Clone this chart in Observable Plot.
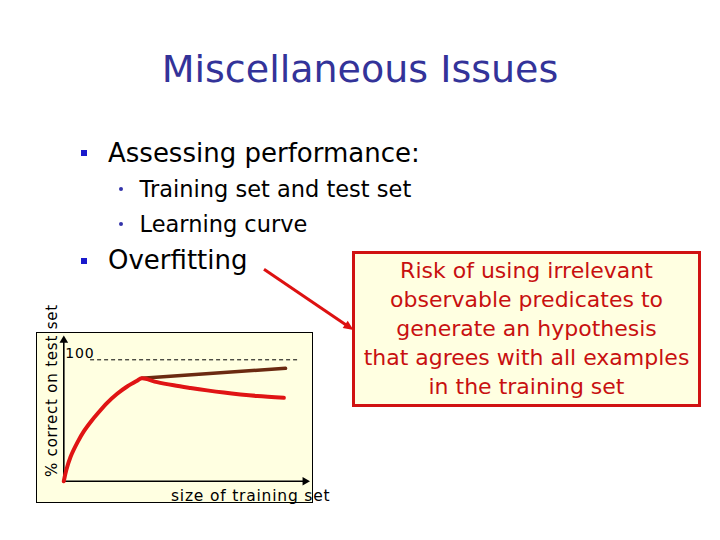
<!DOCTYPE html>
<html>
<head>
<meta charset="utf-8">
<script src="https://cdn.jsdelivr.net/npm/d3@7"></script>
<script src="https://cdn.jsdelivr.net/npm/@observablehq/plot@0.6"></script>
<style>
  body { margin: 0; background: #ffffff; }
  #slide { position: relative; width: 720px; height: 540px; overflow: hidden; background: #ffffff;
           font-family: "DejaVu Sans", sans-serif; }
  .t { position: absolute; white-space: nowrap; line-height: 1; }
</style>
</head>
<body>
<div id="slide"></div>
<script>
// ---------- content ----------
const slideTitle = "Miscellaneous Issues";
const bulletTexts = ["Assessing performance:", "Overfitting"];
const subBulletTexts = ["Training set and test set", "Learning curve"];
const calloutLines = [
  "Risk of using irrelevant",
  "observable predicates to",
  "generate an hypothesis",
  "that agrees with all examples",
  "in the training set"
];
const xLabel = "size of training set";
const yLabel = "% correct on test set";
const refValue = 100;
const refLabel = "100";
const refLineFrom = 11;
const refLineTo = 96.7;
const xAxisEnd = 100;
const yAxisEnd = 118;

// red learning curve (rises, then falls when overfitting)
const overfitX = [0, 1, 2.75, 5.6, 8.2, 11.5, 14, 17.8, 21.9, 26, 30.1, 32, 38.3, 45.1, 52, 58.8, 65.7, 72.5, 79.4, 90.3];
const overfitY = [0, 9, 20, 32, 41, 50, 56, 64.5, 72, 78, 82.8, 84.8, 81.6, 79, 76.8, 74.8, 73, 71.5, 70.2, 68.7];
// brown curve (keeps improving)
const goodX = [32, 91];
const goodY = [84.8, 93];

// ---------- layout ----------
const FONT = '"DejaVu Sans", sans-serif';
const ASC = 0.846; // baseline offset for line-height 1
const slide = d3.select("#slide");

function placeText(txt, opt) {
  const d = slide.append("div").attr("class", "t").text(txt)
    .style("font-size", opt.size + "px")
    .style("top", (opt.baseline - ASC * opt.size) + "px")
    .style("color", opt.color || "#000");
  if (opt.center) d.style("left", "0px").style("width", "720px").style("text-align", "center");
  else d.style("left", opt.left + "px");
  return d;
}

// title
placeText(slideTitle, {baseline: 82, size: 38, color: "#333399", center: true});

// main bullets
const bulletBaselines = [161.5, 269.3];
bulletTexts.forEach((txt, i) => {
  slide.append("div").style("position", "absolute")
    .style("left", "81px").style("top", (bulletBaselines[i] - 11.5) + "px")
    .style("width", "6px").style("height", "6px").style("background", "#1a1acc");
  placeText(txt, {left: 108, baseline: bulletBaselines[i], size: 26});
});

// sub bullets
const subBaselines = [197.3, 231.7];
subBulletTexts.forEach((txt, i) => {
  slide.append("div").style("position", "absolute")
    .style("left", "118.5px").style("top", (subBaselines[i] - 10) + "px")
    .style("width", "4px").style("height", "4px").style("border-radius", "2px")
    .style("background", "#3333aa");
  placeText(txt, {left: 139.5, baseline: subBaselines[i], size: 22.5});
});

// callout box
const box = slide.append("div").style("position", "absolute")
  .style("left", "352px").style("top", "251px")
  .style("width", "349px").style("height", "156px")
  .style("box-sizing", "border-box")
  .style("border", "3px solid #d01212")
  .style("background", "#ffffe1")
  .style("text-align", "center")
  .style("color", "#c81010")
  .style("font-size", "22px")
  .style("line-height", "29px")
  .style("padding-top", "2px");
calloutLines.forEach(l => box.append("div").style("white-space", "nowrap").text(l));

// annotation arrow
const ov = slide.append("svg").attr("width", 720).attr("height", 540)
  .style("position", "absolute").style("left", 0).style("top", 0)
  .style("pointer-events", "none").style("z-index", 5);
const a0 = [264, 269.3], a1 = [353.5, 330];
const len = Math.hypot(a1[0] - a0[0], a1[1] - a0[1]);
const ux = (a1[0] - a0[0]) / len, uy = (a1[1] - a0[1]) / len;
const hl = 10, hw = 4.5;
const bx = a1[0] - hl * ux, by = a1[1] - hl * uy;
ov.append("line").attr("x1", a0[0]).attr("y1", a0[1]).attr("x2", bx + 2 * ux).attr("y2", by + 2 * uy)
  .attr("stroke", "#dd1111").attr("stroke-width", 3);
ov.append("polygon")
  .attr("points", [[a1[0], a1[1]], [bx - hw * uy, by + hw * ux], [bx + hw * uy, by - hw * ux]].map(p => p.join(",")).join(" "))
  .attr("fill", "#dd1111");

// ---------- chart ----------
const overfit = overfitX.map((x, i) => ({x, y: overfitY[i]}));
const good = goodX.map((x, i) => ({x, y: goodY[i]}));

const panel = slide.append("div").style("position", "absolute")
  .style("left", "36px").style("top", "332px")
  .style("width", "275px").style("height", "169px")
  .style("border", "1px solid #000").style("background", "#ffffe1");

const chart = Plot.plot({
  width: 275,
  height: 169,
  marginLeft: 26.3,
  marginRight: 5,
  marginTop: 26.3,
  marginBottom: 21.3,
  x: {domain: [0, 100], axis: null},
  y: {domain: [0, 100], axis: null},
  style: {background: "transparent", overflow: "visible", fontFamily: FONT, color: "#000", letterSpacing: "0.8px"},
  marks: [
    Plot.ruleY([refValue], {x1: refLineFrom, x2: refLineTo, stroke: "#000", strokeWidth: 1, strokeDasharray: "4,3"}),
    Plot.text([refValue], {y: d => d, frameAnchor: "left", text: () => refLabel, dx: 1.5, dy: -6,
      textAnchor: "start", lineAnchor: "middle", fontSize: 14, fill: "#000"}),
    Plot.ruleX([0], {y1: 0, y2: yAxisEnd - 2, stroke: "#000", strokeWidth: 1.6}),
    Plot.ruleY([0], {x1: 0, x2: xAxisEnd - 1, stroke: "#000", strokeWidth: 1.6}),
    Plot.dot([{x: 0, y: yAxisEnd - 2}], {x: "x", y: "y", symbol: "triangle", r: 3.2, fill: "#000", stroke: "none"}),
    Plot.dot([{x: xAxisEnd - 1, y: 0}], {x: "x", y: "y", symbol: "triangle", r: 3.2, rotate: 90, fill: "#000", stroke: "none"}),
    Plot.line(good, {x: "x", y: "y", stroke: "#6b2a10", strokeWidth: 3.5, strokeLinecap: "round"}),
    Plot.line(overfit, {x: "x", y: "y", stroke: "#e01414", strokeWidth: 4, curve: "catmull-rom", strokeLinecap: "round", strokeLinejoin: "round"}),
    Plot.text([yLabel], {frameAnchor: "left", rotate: -90, dx: -12, dy: -30, fontSize: 15,
      textAnchor: "middle", lineAnchor: "middle", fill: "#000"}),
    Plot.text([xLabel], {frameAnchor: "bottom", dx: 65, dy: 15, fontSize: 15.5,
      textAnchor: "middle", lineAnchor: "middle", fill: "#000"})
  ]
});
d3.select(chart).style("display", "block");
panel.node().appendChild(chart);
</script>
</body>
</html>
